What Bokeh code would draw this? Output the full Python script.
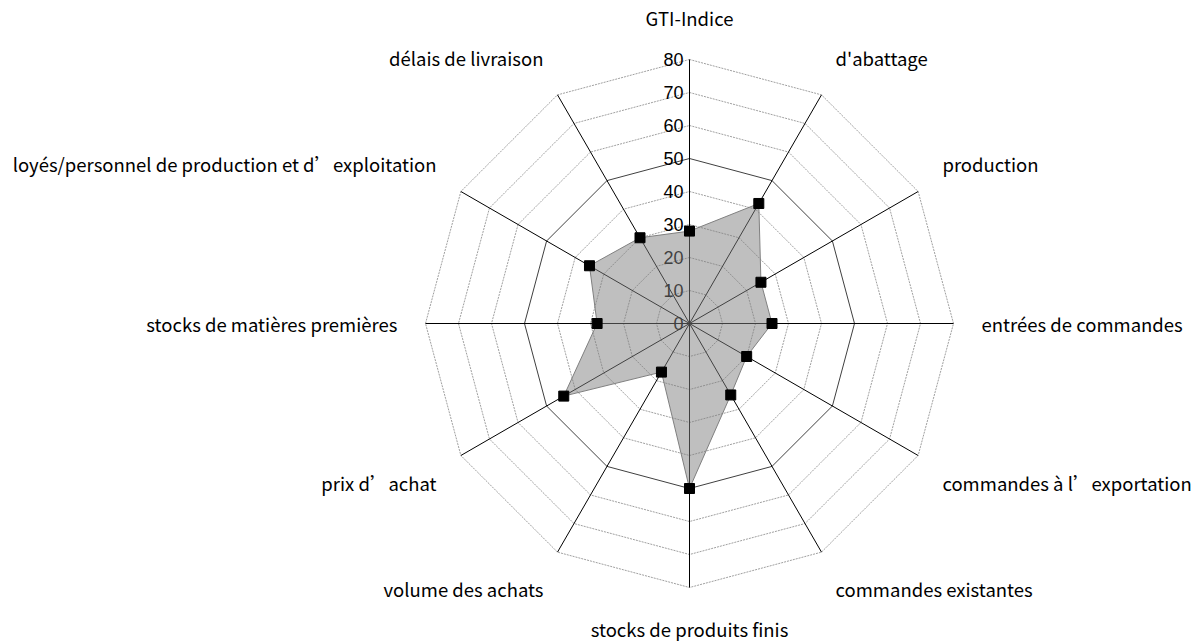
import numpy as np
from bokeh.plotting import figure
from bokeh.models import Range1d
from bokeh.core.properties import value
from bokeh.embed import file_html
from bokeh.resources import INLINE

categories = ["GTI-Indice", "d'abattage", "production", "entrées de commandes",
              "commandes à l’exportation", "commandes existantes",
              "stocks de produits finis", "volume des achats", "prix d’achat",
              "stocks de matières premières",
              "loyés/personnel de production et d’exploitation",
              "délais de livraison"]
values = [28, 42, 25, 25, 20, 25, 50, 17, 44, 28, 35, 30]
ticks = [0, 10, 20, 30, 40, 50, 60, 70, 80]
rmax = 80

W, H = 1198, 641
cx, cy = 689, 323
scale = 3.3
p = figure(width=W, height=H, output_backend="svg", toolbar_location=None,
           x_range=Range1d(-cx / scale, (W - cx) / scale),
           y_range=Range1d(-(H - cy) / scale, cy / scale),
           min_border=0)
p.axis.visible = False
p.grid.visible = False
p.outline_line_color = None

n = len(categories)
ang = np.arange(n) * 2 * np.pi / n
sx, cyv = np.sin(ang), np.cos(ang)

# rings
for t in ticks[1:]:
    xs = list(t * sx) + [t * sx[0]]
    ys = list(t * cyv) + [t * cyv[0]]
    if t == 50:
        p.line(xs, ys, line_color="#404040", line_width=1)
    else:
        p.line(xs, ys, line_color="#a0a0a0", line_width=1, line_dash="2 1")

# spokes
for i in range(n):
    p.line([0, rmax * sx[i]], [0, rmax * cyv[i]], line_color="#000000", line_width=1)

# tick labels
p.text(x=[0] * len(ticks), y=ticks, text=[str(t) for t in ticks],
       text_align="right", text_baseline="middle", x_offset=-6,
       text_font=value("Liberation Sans"), text_font_size="18px", text_color="#000000")

# data polygon
vals = np.array(values, dtype=float)
px, py = vals * sx, vals * cyv
p.patch(list(px), list(py), fill_color="#808080", fill_alpha=0.5,
        line_color="#808080", line_width=1)
p.scatter(px, py, marker="square", size=10, fill_color="#000000", line_color="#000000")

# category labels
R = 88.5
for i, c in enumerate(categories):
    s, co = sx[i], cyv[i]
    if abs(s) < 1e-6:
        align = "center"
    elif s > 0:
        align = "left"
    else:
        align = "right"
    if abs(co) < 1e-6:
        base = "middle"
    elif co > 0:
        base = "bottom"
    else:
        base = "top"
    p.text(x=[R * s], y=[R * co], text=[c], text_align=align, text_baseline=base,
           text_font=value("Noto Sans CJK SC"), text_font_size="18.5px",
           text_color="#000000")

open("out.html", "w").write(file_html(p, INLINE))
